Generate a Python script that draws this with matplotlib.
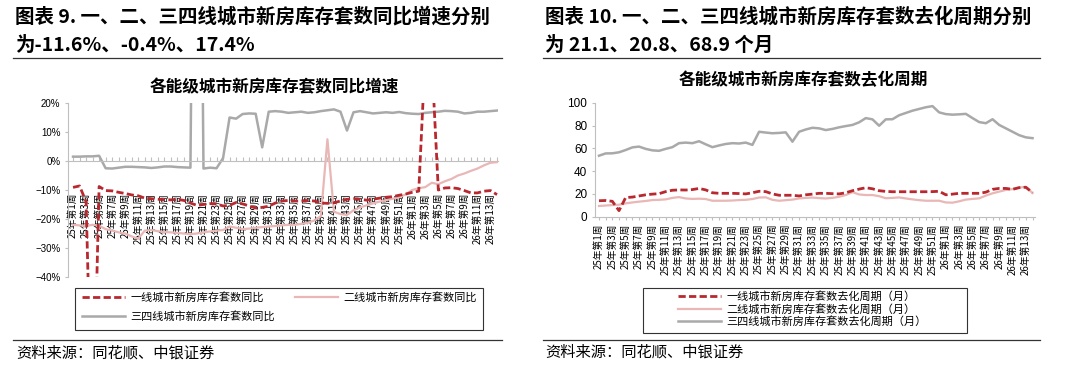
import matplotlib
matplotlib.use("Agg")
from matplotlib import pyplot as plt
from matplotlib.patches import Rectangle
from matplotlib.lines import Line2D

plt.rcParams['font.family'] = ['Noto Sans CJK SC', 'DejaVu Sans']

# weeks: 25年第1周 ... 26年第14周
weeks = ["25年第%d周" % w for w in range(1, 53)] + ["26年第%d周" % w for w in range(1, 15)]

# 各能级城市新房库存套数同比增速 (%)
yoy_tier1 = [-9.1, -8.6, -14.0, -100.0, -8.8, -10.2, -10.3, -10.8, -11.2, -11.7,
             -12.0, -12.8, -13.0, -13.2, -13.3, -13.4, -13.2, -13.6, -14.5, -15.3,
             -15.0, -14.7, -14.8, -15.5, -15.3, -14.3, -14.8, -15.5, -16.2, -16.0,
             -15.6, -14.5, -13.8, -13.6, -13.8, -13.8, -13.6, -13.8, -14.5, -14.6,
             -14.4, -13.8, -13.2, -13.0, -13.2, -13.5, -13.2, -12.8, -12.5, -12.3,
             -11.8, -11.4, -10.8, -10.4, 37.0, 35.0, -10.0, -9.3, -9.2, -9.5,
             -10.2, -11.0, -11.0, -10.4, -10.2, -11.6]
yoy_tier2 = [-22.0, -22.2, -22.4, -22.0, -22.3, -23.5, -24.0, -24.6, -25.0, -26.0,
             -26.8, -24.0, -23.8, -24.2, -24.5, -24.6, -24.8, -25.0, -25.2, -25.0,
             -24.6, -24.3, -24.0, -23.8, -22.6, -23.0, -23.5, -23.3, -23.0, -22.8,
             -22.6, -22.4, -22.2, -22.0, -22.0, -21.7, -21.3, -20.5, -19.0, 7.5,
             -17.5, -18.3, -18.6, -17.0, -16.0, -15.3, -14.6, -14.0, -13.5, -13.0,
             -12.5, -11.5, -10.0, -9.4, -9.0, -7.5, -8.0, -7.0, -6.2, -5.0,
             -4.3, -3.4, -2.6, -1.5, -0.6, -0.4]
yoy_tier34 = [1.5, 1.5, 1.6, 1.6, 1.8, -2.5, -2.6, -2.3, -2.0, -2.0,
              -2.1, -2.2, -2.4, -2.2, -1.9, -1.9, -2.1, -2.2, -2.3, 250.0,
              -2.6, -2.3, -2.5, 1.0, 15.0, 14.6, 16.2, 16.4, 16.3, 4.7,
              17.0, 17.2, 17.0, 16.6, 16.8, 17.0, 16.6, 16.8, 17.2, 17.5,
              17.8, 17.0, 10.5, 16.8, 17.2, 16.8, 16.4, 16.6, 16.8, 16.6,
              16.9, 16.5, 16.3, 16.2, 16.6, 16.8, 17.0, 17.3, 17.2, 17.0,
              16.4, 16.6, 17.0, 17.0, 17.2, 17.4]

# 各能级城市新房库存套数去化周期 (月)
cycle_tier1 = [14.0, 14.2, 13.5, 5.3, 16.8, 17.2, 18.2, 19.2, 19.8, 20.2,
               22.0, 23.2, 23.5, 23.4, 23.8, 24.8, 23.5, 21.0, 20.5, 20.5,
               20.5, 20.3, 20.0, 21.0, 22.3, 22.0, 20.0, 18.8, 18.8, 18.8,
               18.2, 19.2, 19.8, 20.5, 20.5, 20.2, 20.0, 21.0, 22.8, 24.2,
               25.4, 24.5, 22.8, 22.2, 21.9, 21.9, 21.9, 21.9, 21.9, 21.9,
               22.0, 22.3, 19.2, 19.8, 20.5, 20.5, 20.5, 20.5, 21.5, 24.0,
               24.8, 24.8, 24.0, 25.5, 25.8, 21.1]
cycle_tier2 = [9.4, 9.8, 10.2, 10.5, 11.7, 12.5, 13.2, 13.8, 14.6, 14.8,
               15.2, 16.5, 17.2, 16.0, 15.6, 15.8, 15.5, 14.0, 14.0, 14.0,
               14.2, 14.6, 14.8, 15.5, 16.8, 17.0, 14.8, 14.0, 14.5, 15.0,
               16.0, 16.5, 16.8, 16.3, 16.0, 16.5, 17.5, 19.0, 21.5, 19.5,
               19.0, 19.0, 18.0, 16.2, 16.5, 16.9, 16.0, 15.2, 14.5, 14.0,
               14.0, 14.0, 12.5, 12.3, 13.5, 15.0, 15.6, 16.1, 18.5, 20.5,
               22.0, 23.5, 24.2, 25.5, 26.2, 20.8]
cycle_tier34 = [53.5, 55.5, 55.6, 56.5, 58.5, 60.8, 61.5, 59.5, 58.2, 57.8,
                59.5, 61.0, 64.5, 65.0, 64.5, 66.2, 63.5, 61.0, 62.5, 63.8,
                64.5, 64.2, 65.0, 63.0, 74.5, 73.8, 73.2, 73.5, 74.0, 65.8,
                74.5, 76.5, 78.0, 77.5, 76.0, 77.0, 78.4, 79.5, 80.5, 82.8,
                86.5, 85.4, 79.8, 85.4, 85.5, 89.0, 91.0, 93.0, 94.5, 96.0,
                97.0, 91.5, 90.0, 89.5, 89.8, 90.2, 86.5, 83.0, 82.0, 85.5,
                80.5, 77.5, 74.5, 71.5, 69.6, 68.9]

yoy_ticks = [20, 10, 0, -10, -20, -30, -40]
yoy_tick_labels = ["20%", "10%", "0%", "−10%", "−20%", "−30%", "−40%"]
cycle_ticks = [0, 20, 40, 60, 80, 100]

yoy_names = ["一线城市新房库存套数同比", "二线城市新房库存套数同比", "三四线城市新房库存套数同比"]
cycle_names = ["一线城市新房库存套数去化周期（月）", "二线城市新房库存套数去化周期（月）",
               "三四线城市新房库存套数去化周期（月）"]

RED = '#B8282E'
PINK = '#E8B7B6'
GRAY = '#A9A9A9'
AXIS = '#BFBFBF'
W, H = 1080, 378


def fx(x):
    return x / W


def fy(y):
    return 1 - y / H


fig = plt.figure(figsize=(10.8, 3.78), dpi=100)
x = list(range(len(weeks)))
xlabels = [w if i % 2 == 0 else '' for i, w in enumerate(weeks)]

# ---- left: 同比增速 ----
ax1 = fig.add_axes([fx(68), fy(277), fx(430), 174 / H])
ax1.plot(x, yoy_tier1, color=RED, lw=2.0, dashes=(2.6, 1.2), label=yoy_names[0], zorder=4)
ax1.plot(x, yoy_tier2, color=PINK, lw=1.6, label=yoy_names[1], zorder=3)
ax1.plot(x, yoy_tier34, color=GRAY, lw=1.8, label=yoy_names[2], zorder=2)
ax1.set_xlim(-0.77, 65.15)
ax1.set_ylim(-40, 20)
for s in ['top', 'right']:
    ax1.spines[s].set_visible(False)
ax1.spines['bottom'].set_position(('data', 0))
ax1.spines['bottom'].set_color(AXIS)
ax1.spines['left'].set_color(AXIS)
ax1.set_xticks(x, xlabels)
ax1.tick_params(axis='x', direction='in', length=3, color=AXIS, pad=23,
                labelsize=7, labelrotation=90)
ax1.set_yticks(yoy_ticks, yoy_tick_labels)
ax1.tick_params(axis='y', length=2.5, color=AXIS, labelsize=7, pad=3)
for t in ax1.get_yticklabels():
    t.set_fontfamily(['Liberation Sans', 'DejaVu Sans'])

h1 = ax1.get_legend_handles_labels()[0]
ax1.legend([h1[0], h1[2], h1[1]], [yoy_names[0], yoy_names[2], yoy_names[1]],
           loc='upper left', bbox_to_anchor=(fx(82), fy(292)), bbox_transform=fig.transFigure,
           ncol=2, frameon=False, fontsize=8, handlelength=3.9, handletextpad=0.45,
           columnspacing=1.8, labelspacing=0.75, borderpad=0, borderaxespad=0)
fig.add_artist(Rectangle((fx(75), fy(330)), fx(408), 42 / H, fill=False, ec='#333333',
                         lw=0.8, transform=fig.transFigure))

# ---- right: 去化周期 ----
ax2 = fig.add_axes([fx(595), fy(216.7), fx(440), 114 / H])
ax2.plot(x, cycle_tier1, color=RED, lw=2.0, dashes=(2.6, 1.2), label=cycle_names[0], zorder=4)
ax2.plot(x, cycle_tier2, color=PINK, lw=1.6, label=cycle_names[1], zorder=3)
ax2.plot(x, cycle_tier34, color=GRAY, lw=1.8, label=cycle_names[2], zorder=2)
ax2.set_xlim(-0.6, 65.37)
ax2.set_ylim(0, 100)
for s in ['top', 'right']:
    ax2.spines[s].set_visible(False)
ax2.spines['bottom'].set_color(AXIS)
ax2.spines['left'].set_color(AXIS)
ax2.set_xticks(x, xlabels)
ax2.tick_params(axis='x', direction='out', length=2.5, color=AXIS, pad=2.5,
                labelsize=7, labelrotation=90)
ax2.set_yticks(cycle_ticks)
ax2.tick_params(axis='y', length=2.5, color=AXIS, labelsize=8.5, pad=3)
for t in ax2.get_yticklabels():
    t.set_fontfamily(['Liberation Sans', 'DejaVu Sans'])

ax2.legend(loc='upper left', bbox_to_anchor=(fx(678), fy(291)), bbox_transform=fig.transFigure,
           ncol=1, frameon=False, fontsize=8, handlelength=3.9, handletextpad=0.45,
           labelspacing=0.15, borderpad=0, borderaxespad=0)
fig.add_artist(Rectangle((fx(643), fy(333)), fx(324), 45 / H, fill=False, ec='#333333',
                         lw=0.8, transform=fig.transFigure))

# ---- titles, rules, sources ----
fig.text(fx(15), fy(17), "图表 9. 一、二、三四线城市新房库存套数同比增速分别", fontsize=14,
         fontweight='bold', va='center')
fig.text(fx(15), fy(45), "为-11.6%、-0.4%、17.4%", fontsize=14, fontweight='bold', va='center')
fig.text(fx(545), fy(17), "图表 10. 一、二、三四线城市新房库存套数去化周期分别", fontsize=14,
         fontweight='bold', va='center')
fig.text(fx(545), fy(45), "为 21.1、20.8、68.9 个月", fontsize=14, fontweight='bold', va='center')

fig.text(fx(274), fy(87), "各能级城市新房库存套数同比增速", fontsize=12, fontweight='bold',
         ha='center', va='center')
fig.text(fx(803), fy(80), "各能级城市新房库存套数去化周期", fontsize=12, fontweight='bold',
         ha='center', va='center')

for x0, x1 in [(13, 502), (543, 1040)]:
    fig.add_artist(Line2D([fx(x0), fx(x1)], [fy(58), fy(58)], color='#333333', lw=0.9))
    fig.add_artist(Line2D([fx(x0), fx(x1)], [fy(340), fy(340)], color='#333333', lw=0.9))

fig.text(fx(16), fy(353), "资料来源：同花顺、中银证券", fontsize=11, va='center')
fig.text(fx(545), fy(352), "资料来源：同花顺、中银证券", fontsize=11, va='center')

fig.savefig("out.png", dpi=100)
